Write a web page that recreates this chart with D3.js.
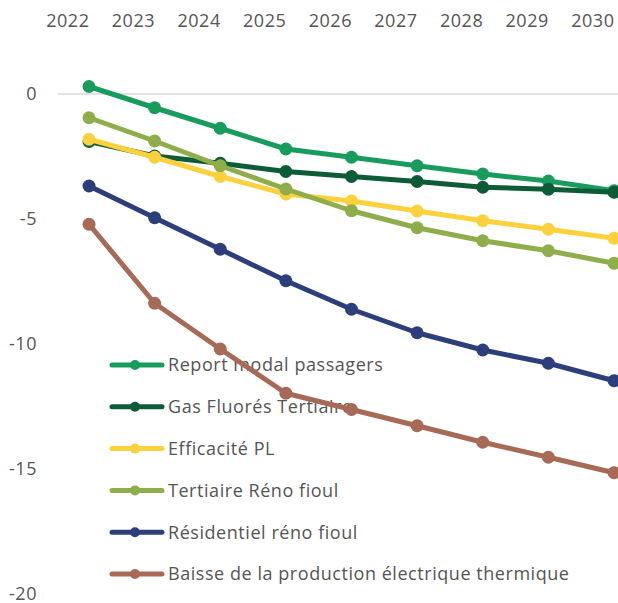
<!DOCTYPE html>
<html><head><meta charset="utf-8">
<script src="https://cdn.jsdelivr.net/npm/d3@7"></script>
<style>body{margin:0;background:#fff}svg{display:block}text{font-family:"Open Sans",sans-serif;fill:#555}</style>
</head><body>
<svg id="c" width="618" height="603"></svg>
<script>
const years = ["2022","2023","2024","2025","2026","2027","2028","2029","2030"];
const seriesNames = ["Report modal passagers","Gas Fluorés Tertiaire","Efficacité PL","Tertiaire Réno fioul","Résidentiel réno fioul","Baisse de la production électrique thermique"];
const reportModal = [0.3,-0.55,-1.37,-2.2,-2.53,-2.87,-3.2,-3.48,-3.87];
const gasFluores = [-1.9,-2.48,-2.77,-3.1,-3.3,-3.5,-3.73,-3.81,-3.93];
const efficacitePL = [-1.81,-2.53,-3.3,-4.0,-4.28,-4.68,-5.07,-5.41,-5.77];
const tertiaireReno = [-0.95,-1.88,-2.87,-3.8,-4.67,-5.35,-5.87,-6.27,-6.77];
const residentielReno = [-3.68,-4.95,-6.21,-7.47,-8.61,-9.55,-10.24,-10.77,-11.47];
const baisseProd = [-5.21,-8.37,-10.2,-11.97,-12.62,-13.27,-13.93,-14.53,-15.15];
const yTicks = [0,-5,-10,-15,-20];
const colors = ["#189c5e","#0d5c37","#fdd03d","#8fae4b","#2c3f7c","#a66a56"];

const allValues = [reportModal,gasFluores,efficacitePL,tertiaireReno,residentielReno,baisseProd];
const series = seriesNames.map((n,i)=>({name:n,values:allValues[i],color:colors[i]}));

const FS = 18, LS = "0.55px";
const svg = d3.select("#c");
const x = d3.scalePoint().domain(years).range([89,614]);
const y = d3.scaleLinear().domain([-20,0]).range([594,94]);

// zero gridline
svg.append("line").attr("x1",58).attr("x2",618).attr("y1",y(0)).attr("y2",y(0))
  .attr("stroke","#d9d9d9").attr("stroke-width",1.5);

// y axis labels
const yAxis = d3.axisLeft(y).tickValues(yTicks).tickSize(0).tickPadding(0).tickFormat(d=>String(d));
const ga = svg.append("g").attr("transform","translate(37,0)").call(yAxis);
ga.select(".domain").remove();
ga.selectAll("text").attr("font-size",FS).attr("dy","0.3em").style("letter-spacing",LS)
  .style("font-family","\"Open Sans\",sans-serif").attr("fill","#555");

// x axis labels (top), right-aligned at category position
const xAxis = d3.axisTop(x).tickSize(0).tickPadding(0);
const gx = svg.append("g").attr("transform","translate(0,27)").call(xAxis);
gx.select(".domain").remove();
gx.selectAll("text").attr("font-size",FS).attr("text-anchor","end").style("letter-spacing",LS)
  .style("font-family","\"Open Sans\",sans-serif").attr("fill","#555");

// legend
const lg = svg.append("g");
const legY = d3.scalePoint().domain(seriesNames).range([365,574]);
series.forEach(s=>{
  const yy = legY(s.name);
  lg.append("line").attr("x1",112).attr("x2",162).attr("y1",yy).attr("y2",yy)
    .attr("stroke",s.color).attr("stroke-width",5).attr("stroke-linecap","round");
  lg.append("circle").attr("cx",135).attr("cy",yy).attr("r",5).attr("fill",s.color);
  lg.append("text").attr("x",168).attr("y",yy).attr("dy","0.36em").attr("font-size",FS)
    .style("letter-spacing",LS).text(s.name);
});

// lines
const line = d3.line().x((d,i)=>x(years[i])).y(d=>y(d));
series.forEach(s=>{
  const g = svg.append("g");
  g.append("path").attr("d",line(s.values)).attr("fill","none").attr("stroke",s.color)
    .attr("stroke-width",5).attr("stroke-linejoin","round");
  g.selectAll("circle").data(s.values).join("circle")
    .attr("cx",(d,i)=>x(years[i])).attr("cy",d=>y(d)).attr("r",6.5).attr("fill",s.color);
});
</script>
</body></html>
